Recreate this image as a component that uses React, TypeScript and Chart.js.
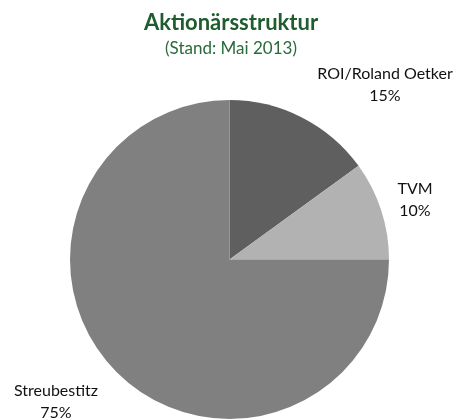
import React, { useEffect, useRef } from "react";
import { Chart, registerables } from "chart.js";

Chart.register(...registerables);

const categories = ["ROI/Roland Oetker", "TVM", "Streubestitz"];
const values = [15, 10, 75];
const colors = ["#5f5f5f", "#b2b2b2", "#808080"];
const titleText = "Aktionärsstruktur";
const subtitleText = "(Stand: Mai 2013)";

// label anchor positions (canvas px) for the outside labels
const labelPos = [
  { x: 385, y: 74 },
  { x: 415, y: 189 },
  { x: 56, y: 391 },
];

export default function App() {
  const ref = useRef<HTMLCanvasElement>(null);
  useEffect(() => {
    document.body.style.margin = "0";
    const textPlugin = {
      id: "texts",
      afterDraw(chart: any) {
        const ctx = chart.ctx;
        ctx.save();
        ctx.textAlign = "center";
        ctx.textBaseline = "middle";
        ctx.fillStyle = "#1f5c2e";
        ctx.font = "bold 22px Lato, 'Open Sans', sans-serif";
        ctx.fillText(titleText, 231, 23);
        ctx.font = "17px Lato, 'Open Sans', sans-serif";
        ctx.fillStyle = "#2a6a38";
        ctx.fillText(subtitleText, 231, 49);
        ctx.fillStyle = "#111";
        ctx.font = "16px Lato, 'Open Sans', sans-serif";
        const total = values.reduce((a, b) => a + b, 0);
        categories.forEach((c, i) => {
          const p = labelPos[i];
          ctx.fillText(c, p.x, p.y);
          ctx.fillText(Math.round((values[i] / total) * 100) + "%", p.x, p.y + 22);
        });
        ctx.restore();
      },
    };
    const chart = new Chart(ref.current!, {
      type: "pie",
      data: {
        labels: categories,
        datasets: [
          {
            data: values,
            backgroundColor: colors,
            borderWidth: 0,
          },
        ],
      },
      options: {
        animation: false,
        responsive: false,
        layout: { padding: { top: 100, bottom: 0, left: 70, right: 68 } },
        plugins: { legend: { display: false }, tooltip: { enabled: false } },
      },
      plugins: [textPlugin],
    });
    return () => chart.destroy();
  }, []);
  return (
    <div style={{ width: 457, height: 419, background: "#fff" }}>
      <canvas ref={ref} width={457} height={419} />
    </div>
  );
}
